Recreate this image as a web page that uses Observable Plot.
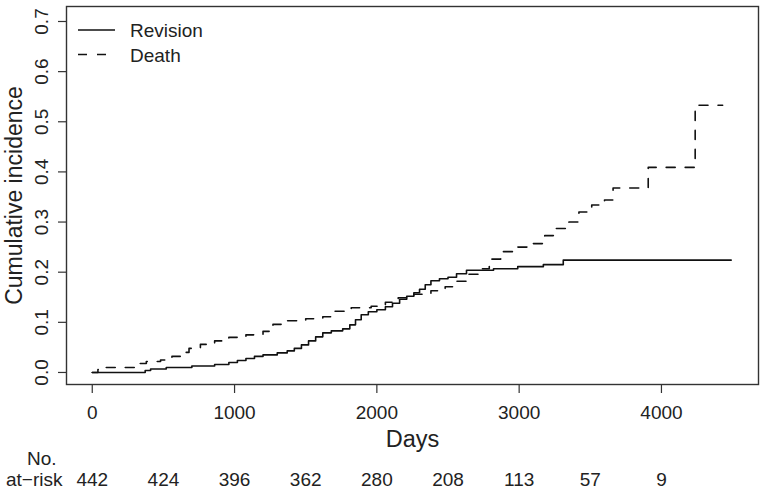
<!DOCTYPE html>
<html>
<head>
<meta charset="utf-8">
<script src="https://cdn.jsdelivr.net/npm/d3@7"></script>
<script src="https://cdn.jsdelivr.net/npm/@observablehq/plot@0.6"></script>
<style>
  html, body { margin: 0; padding: 0; background: #fff; }
  #chart svg { display: block; }
</style>
</head>
<body>
<div id="chart"></div>
<script>
// Cumulative incidence step curves (day of event, cumulative incidence after it)
const revisionDays = [0, 372, 410, 520, 700, 860, 960, 1020, 1080, 1140, 1200, 1300, 1370, 1420, 1470, 1520, 1570, 1620, 1680, 1760, 1810, 1850, 1890, 1940, 2000, 2060, 2110, 2160, 2210, 2260, 2300, 2340, 2380, 2440, 2500, 2560, 2630, 2820, 2990, 3170, 3310, 4490];
const revisionValues = [0, 0.004, 0.007, 0.010, 0.013, 0.016, 0.020, 0.024, 0.028, 0.032, 0.035, 0.039, 0.043, 0.048, 0.055, 0.063, 0.071, 0.079, 0.083, 0.087, 0.095, 0.105, 0.115, 0.121, 0.125, 0.131, 0.138, 0.146, 0.152, 0.159, 0.166, 0.175, 0.183, 0.187, 0.190, 0.197, 0.204, 0.207, 0.211, 0.215, 0.224, 0.224];

const deathDays = [0, 40, 90, 300, 380, 480, 560, 620, 680, 760, 860, 960, 1080, 1200, 1270, 1360, 1500, 1620, 1700, 1820, 1960, 2060, 2150, 2260, 2380, 2480, 2560, 2640, 2720, 2790, 2870, 2980, 3090, 3180, 3260, 3350, 3420, 3510, 3600, 3660, 3907, 4237, 4430];
const deathValues = [0, 0.006, 0.010, 0.018, 0.022, 0.025, 0.032, 0.040, 0.048, 0.056, 0.063, 0.070, 0.075, 0.082, 0.096, 0.103, 0.107, 0.111, 0.122, 0.129, 0.132, 0.140, 0.149, 0.156, 0.163, 0.171, 0.182, 0.196, 0.207, 0.226, 0.241, 0.250, 0.257, 0.273, 0.287, 0.300, 0.320, 0.334, 0.344, 0.368, 0.409, 0.533, 0.533];

// Number at risk table
const atRiskDays = [0, 500, 1000, 1500, 2000, 2500, 3000, 3500, 4000];
const atRiskCounts = [442, 424, 396, 362, 280, 208, 113, 57, 9];

// Axis ticks and labels
const xTicks = [0, 1000, 2000, 3000, 4000];
const yTicks = [0, 0.1, 0.2, 0.3, 0.4, 0.5, 0.6, 0.7];
const seriesNames = ["Revision", "Death"];
const xLabel = "Days";
const yLabel = "Cumulative incidence";
const atRiskHeader = ["No.", "at\u2212risk"];

const revision = revisionDays.map((d, i) => ({day: d, value: revisionValues[i]}));
const death = deathDays.map((d, i) => ({day: d, value: deathValues[i]}));
const atRisk = atRiskDays.map((d, i) => ({day: d, n: atRiskCounts[i]}));

const font = "'Liberation Sans', Arial, Helvetica, sans-serif";
const ink = "#222";
const dash = "9,10";

// Legend in the top-left corner of the panel
function legend(index, scales, values, dims) {
  const g = d3.create("svg:g").attr("font-family", font).attr("font-size", 19)
    .attr("fill", ink).attr("text-anchor", "start");
  const x0 = dims.marginLeft + 12, x1 = dims.marginLeft + 49, tx = dims.marginLeft + 64;
  const rows = [{name: seriesNames[0], y: dims.marginTop + 24, dash: null},
                {name: seriesNames[1], y: dims.marginTop + 48.5, dash}];
  for (const r of rows) {
    const line = g.append("line").attr("x1", x0).attr("x2", x1).attr("y1", r.y).attr("y2", r.y)
      .attr("stroke", "#111").attr("stroke-width", 1.6);
    if (r.dash) line.attr("stroke-dasharray", r.dash);
    g.append("text").attr("x", tx).attr("y", r.y + 7).attr("text-anchor", "start").text(r.name);
  }
  return g.node();
}

const chart = Plot.plot({
  width: 764,
  height: 495,
  marginLeft: 66,
  marginRight: 6,
  marginTop: 6,
  marginBottom: 111,
  style: {fontFamily: font, fontSize: "19px", color: ink, background: "#fff", overflow: "visible"},
  x: {domain: [-181, 4682]},
  y: {domain: [-0.024, 0.7299]},
  marks: [
    Plot.axisX({ticks: xTicks, tickSize: 9, tickPadding: 12, tickFormat: d => String(d), label: null, stroke: "#333", strokeWidth: 1.2}),
    Plot.axisY({ticks: yTicks, tickSize: 8, tickPadding: 11, tickRotate: -90, tickFormat: d => d.toFixed(1), label: null, stroke: "#333", strokeWidth: 1.2}),
    Plot.line(revision, {x: "day", y: "value", curve: "step-after", stroke: "#111", strokeWidth: 1.6}),
    Plot.line(death, {x: "day", y: "value", curve: "step-after", stroke: "#111", strokeWidth: 1.6, strokeDasharray: dash}),
    Plot.frame({stroke: "#333", strokeWidth: 1.4}),
    Plot.text([yLabel], {frameAnchor: "left", rotate: -90, dx: -45, textAnchor: "middle", lineAnchor: "bottom", fontSize: 23, fill: ink}),
    Plot.text([xLabel], {frameAnchor: "bottom", dy: 62, fontSize: 23.5, fill: ink}),
    Plot.text([atRiskHeader[0]], {frameAnchor: "bottom-left", dx: -10, dy: 80, textAnchor: "end", fontSize: 19, fill: ink}),
    Plot.text([atRiskHeader[1]], {frameAnchor: "bottom-left", dx: -4, dy: 101, textAnchor: "end", fontSize: 19, fill: ink}),
    Plot.text(atRisk, {x: "day", text: "n", frameAnchor: "bottom", dy: 101, fontSize: 19, fill: ink}),
    legend
  ]
});

document.getElementById("chart").appendChild(chart);
</script>
</body>
</html>
